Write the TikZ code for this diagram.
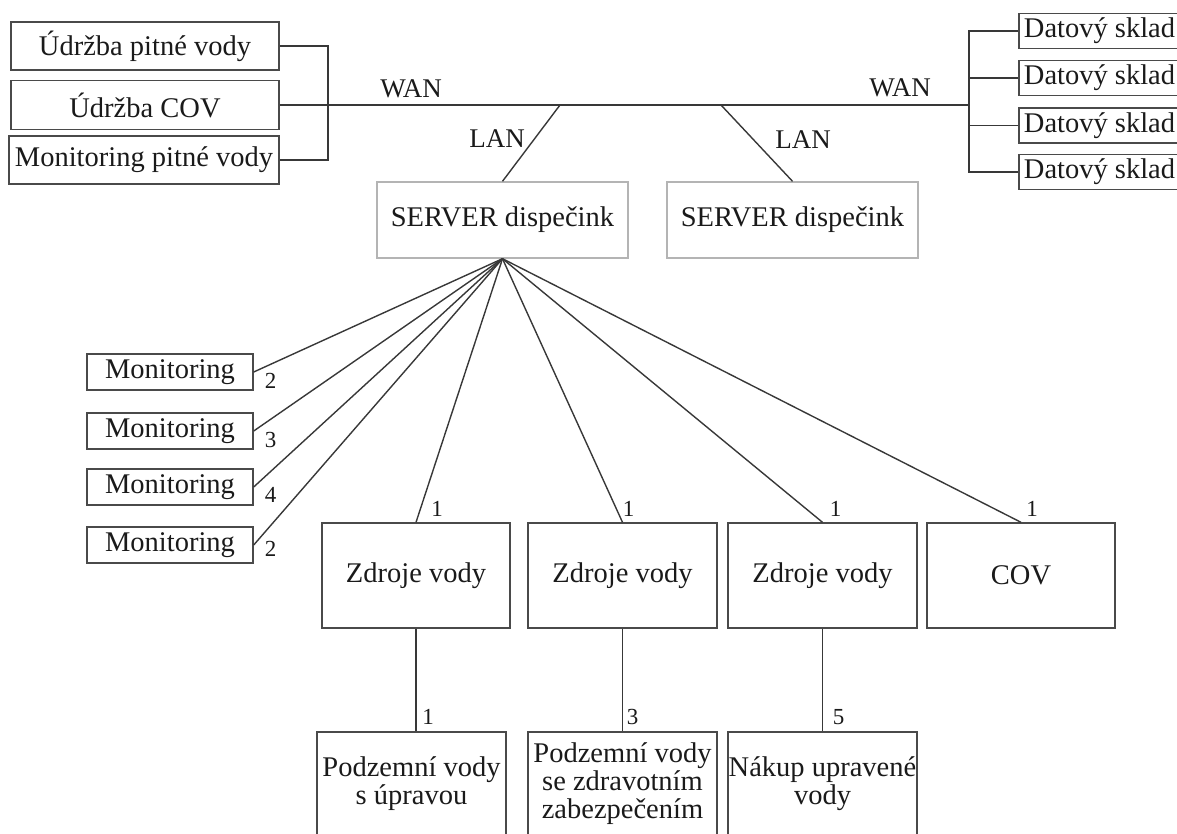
\documentclass[tikz,border=0pt]{standalone}
\usepackage{fontspec}
\setmainfont{Liberation Serif}
\usetikzlibrary{calc}
\definecolor{boxc}{HTML}{4A4A4A}
\definecolor{srvc}{HTML}{B4B4B4}
\definecolor{linec}{HTML}{383838}
\definecolor{txt}{HTML}{1A1A1A}
\begin{document}
\begin{tikzpicture}[x=1pt,y=-1pt,
  box/.style={draw=boxc, line width=1.4pt, rectangle, inner sep=0pt,
    font=\fontsize{28.5}{28}\selectfont, text=txt, align=center},
  srv/.style={box, draw=srvc},
  num/.style={font=\fontsize{23}{23}\selectfont, text=txt, inner sep=0pt},
  net/.style={font=\fontsize{27}{27}\selectfont, text=txt, inner sep=0pt},
  wire/.style={draw=linec, line width=1.4pt}]
\useasboundingbox (0,0) rectangle (1177,833);
\clip (0,0) rectangle (1177,833);

% top-left boxes
\node[box, minimum width=268pt, minimum height=48pt] (u1) at (145,46) {Údržba pitné vody};
\node[box, minimum width=268pt, minimum height=49pt] (u2) at (145,105) {Údržba COV};
\node[box, minimum width=270pt, minimum height=48pt] (u3) at (144,160) {Monitoring pitné vody};

% data stores
\node[box, minimum width=161pt, minimum height=35pt] (d1) at (1099.5,31) {Datový sklad};
\node[box, minimum width=161pt, minimum height=35pt] (d2) at (1099.5,78) {Datový sklad};
\node[box, minimum width=161pt, minimum height=35pt] (d3) at (1099.5,125.5) {Datový sklad};
\node[box, minimum width=161pt, minimum height=35pt] (d4) at (1099.5,172) {Datový sklad};

% servers
\node[srv, minimum width=251pt, minimum height=76pt] (s1) at (502.5,220) {SERVER dispečink};
\node[srv, minimum width=251pt, minimum height=76pt] (s2) at (792.5,220) {SERVER dispečink};

% network
\coordinate (lb) at (328,105);
\coordinate (rb) at (969,105);
\coordinate (lan1) at (560,105);
\coordinate (lan2) at (721,105);
\draw[wire] (u1.east) -- (u1.east -| lb) -- (u3.east -| lb) -- (u3.east);
\draw[wire] (u2.east) -- (lb) -- (rb);
\draw[wire] (d1.west) -- (d1.west -| rb) -- (d4.west -| rb) -- (d4.west);
\draw[wire] (d2.west) -- (d2.west -| rb);
\draw[wire] (d3.west) -- (d3.west -| rb);
\draw[wire] (lan1) -- (s1.north);
\draw[wire] (lan2) -- (s2.north);
\node[net] (wan1) at (411,89) {WAN};
\node[net] (wan2) at (900,88) {WAN};
\node[net] (lant1) at (497,139) {LAN};
\node[net] (lant2) at (803,140) {LAN};

% monitoring
\node[box, minimum width=166pt, minimum height=36pt] (m1) at (170,372) {Monitoring};
\node[box, minimum width=166pt, minimum height=36pt] (m2) at (170,431) {Monitoring};
\node[box, minimum width=166pt, minimum height=36pt] (m3) at (170,487) {Monitoring};
\node[box, minimum width=166pt, minimum height=36pt] (m4) at (170,545) {Monitoring};

% sources
\node[box, minimum width=188pt, minimum height=105pt] (z1) at (416,575.5) {Zdroje vody};
\node[box, minimum width=189pt, minimum height=105pt] (z2) at (622.5,575.5) {Zdroje vody};
\node[box, minimum width=189pt, minimum height=105pt] (z3) at (822.5,575.5) {Zdroje vody};
\node[box, minimum width=188pt, minimum height=105pt] (cov) at (1021,575.5) {COV};

% bottom boxes
\node[box, minimum width=189pt, minimum height=104pt] (p1) at (411.5,784) {Podzemní vody\\s úpravou};
\node[box, minimum width=189pt, minimum height=104pt] (p2) at (622.5,784) {Podzemní vody\\se zdravotním\\zabezpečením};
\node[box, minimum width=189pt, minimum height=104pt] (p3) at (822.5,784) {Nákup upravené\\vody};

% fan from server
\foreach \t in {m1,m2,m3,m4} \draw[wire] (s1.south) -- (\t.east);
\foreach \t in {z1,z2,z3,cov} \draw[wire] (s1.south) -- (\t.north);

\node[num] (n1) at ($(m1.east)+(17,9)$) {2};
\node[num] (n2) at ($(m2.east)+(17,9)$) {3};
\node[num] (n3) at ($(m3.east)+(17,8)$) {4};
\node[num] (n4) at ($(m4.east)+(17,4)$) {2};
\node[num] (n5) at ($(z1.north)+(21,-13)$) {1};
\node[num] (n6) at ($(z2.north)+(6,-13)$) {1};
\node[num] (n7) at ($(z3.north)+(13,-13)$) {1};
\node[num] (n8) at ($(cov.north)+(11,-13)$) {1};

% vertical links
\draw[wire] (z1.south) -- (z1.south |- p1.north) coordinate (t1);
\draw[wire] (z2.south) -- (z2.south |- p2.north) coordinate (t2);
\draw[wire] (z3.south) -- (z3.south |- p3.north) coordinate (t3);
\node[num] (n9) at ($(t1)+(12,-14)$) {1};
\node[num] (n10) at ($(t2)+(10,-14)$) {3};
\node[num] (n11) at ($(t3)+(16,-14)$) {5};
\end{tikzpicture}
\end{document}
